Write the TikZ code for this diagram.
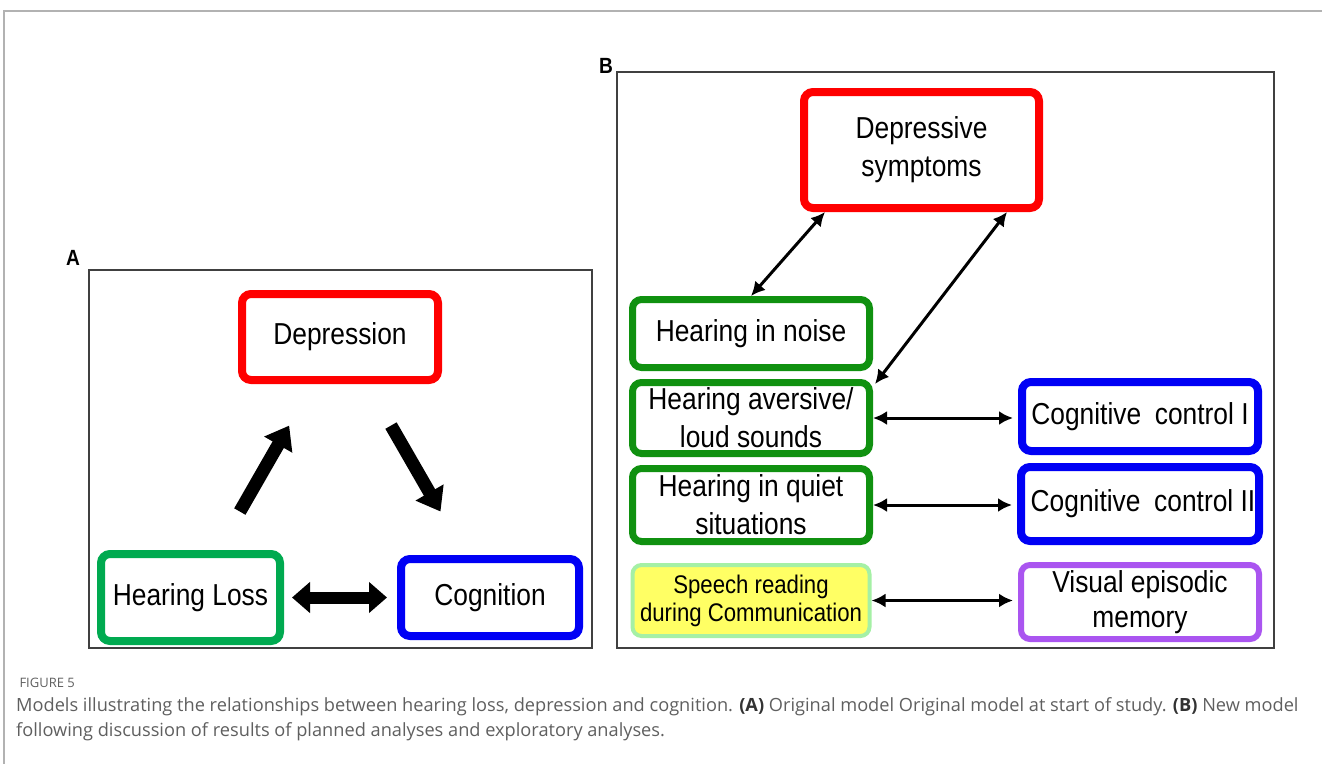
\documentclass[tikz,border=0pt]{standalone}
\usepackage{fontspec}
\setmainfont[FakeStretch=0.87]{Liberation Sans}
\newfontfamily\capfont{Open Sans}
\usepackage{tikz}
\usetikzlibrary{arrows.meta, positioning, calc}
\usepackage{xcolor}

\definecolor{depred}{RGB}{255,0,0}
\definecolor{hlgreen}{RGB}{0,170,80}
\definecolor{hgreen}{RGB}{16,145,16}
\definecolor{cogblue}{RGB}{0,0,245}
\definecolor{memviolet}{RGB}{170,85,240}
\definecolor{spyellow}{RGB}{255,255,100}
\definecolor{spgreen}{RGB}{165,240,165}
\definecolor{capgray}{RGB}{95,95,95}

\begin{document}
\begin{tikzpicture}[
    x=1pt, y=-1pt,
    box/.style={draw, rectangle, rounded corners=9pt, fill=white, align=center, inner sep=0pt,
                font=\fontsize{30.3}{38}\selectfont},
    frame/.style={draw=black!75, line width=1.5pt},
    panel/.style={font=\fontsize{22}{22}\selectfont\bfseries},
    bigarrow/.style={-{Triangle[length=22pt, width=31pt]}, line width=13pt},
    bigboth/.style={{Triangle[length=18pt, width=30pt]}-{Triangle[length=18pt, width=30pt]}, line width=12pt},
    thinboth/.style={{Latex[length=14pt, width=14pt]}-{Latex[length=14pt, width=14pt]}, line width=3pt}
]
\useasboundingbox (0,0) rectangle (1322,764);

% page rules
\draw[black!30, line width=1.5pt] (1322,11) -- (4,11) -- (4,764);

% Panel A
\node[panel] (labA) at (73,258) {A};
\draw[frame] (89,270) rectangle (592,648);

\node[box, draw=depred, line width=8pt, minimum width=196pt, minimum height=86pt] (dep) at (340,337) {Depression};
\node[box, draw=hlgreen, line width=8pt, minimum width=179pt, minimum height=87pt] (hl) at (190.5,597.5) {Hearing Loss};
\node[box, draw=cogblue, line width=8pt, minimum width=178pt, minimum height=77pt] (cog) at (490,597.5) {Cognition};

\draw[bigarrow] ($(hl)!0.33!(dep)$) -- ($(hl)!0.66!(dep)$);
\draw[bigarrow] ($(dep)!0.34!(cog)$) -- ($(dep)!0.67!(cog)$);
\draw[bigboth, shorten <=8pt, shorten >=10pt] (hl.east) -- (hl.east -| cog.west);

% Panel B
\node[panel] (labB) at (606,66) {B};
\draw[frame] (617,72) rectangle (1274,648);

\node[box, draw=depred, line width=8pt, minimum width=235pt, minimum height=116pt] (dsym) at (921.5,150) {Depressive\\symptoms};

\node[box, draw=hgreen, line width=7pt, minimum width=237pt, minimum height=68pt] (hnoise) at (751,333.5) {Hearing in noise};
\node[box, draw=hgreen, line width=7pt, minimum width=237pt, minimum height=71pt, below=8pt of hnoise] (havers) {Hearing aversive/\\loud sounds};
\node[box, draw=hgreen, line width=7pt, minimum width=237pt, minimum height=73pt, below=8pt of havers] (hquiet) {Hearing in quiet\\situations};
\node[box, draw=spgreen, fill=spyellow, line width=4pt, minimum width=237pt, minimum height=71pt,
      font=\fontsize{25.5}{28}\selectfont, below=18pt of hquiet] (speech) {Speech reading\\during Communication};

\node[box, draw=cogblue, line width=8pt, minimum width=236pt, minimum height=69pt] (cc1) at (1140,416.5) {Cognitive\hspace{0.45em}control I};
\node[box, draw=cogblue, line width=8pt, minimum width=238pt, minimum height=74pt, below=8pt of cc1] (cc2) {\hspace{6pt}Cognitive\hspace{0.45em}control II};
\node[box, draw=memviolet, line width=6pt, minimum width=238pt, minimum height=74pt,
      font=\fontsize{30.3}{35}\selectfont, below=17pt of cc2] (vem) {Visual episodic\\memory};

\draw[thinboth] ([xshift=25pt]dsym.south west) -- (hnoise.north);
\draw[thinboth] ([xshift=-36pt]dsym.south east) -- ([xshift=2pt, yshift=-5pt]havers.north east);
\draw[thinboth, shorten >=5pt] (havers.east) -- (havers.east -| cc1.west);
\draw[thinboth, shorten >=5pt] (hquiet.east) -- (hquiet.east -| cc2.west);
\draw[thinboth, shorten >=5pt] (speech.east) -- (speech.east -| vem.west);

% caption
\node[anchor=west, text=capgray, font=\capfont\fontsize{13}{14}\selectfont] (figno) at (16,683) {FIGURE 5};
\node[anchor=north west, align=left, inner sep=0pt, text=capgray, font=\capfont\fontsize{18.2}{25}\selectfont] (caption) at (16,697)
  {Models illustrating the relationships between hearing loss, depression and cognition. \textcolor{black!80}{\bfseries(A)} Original model Original model at start of study. \textcolor{black!80}{\bfseries(B)} New model\\
   following discussion of results of planned analyses and exploratory analyses.};
\end{tikzpicture}
\end{document}
